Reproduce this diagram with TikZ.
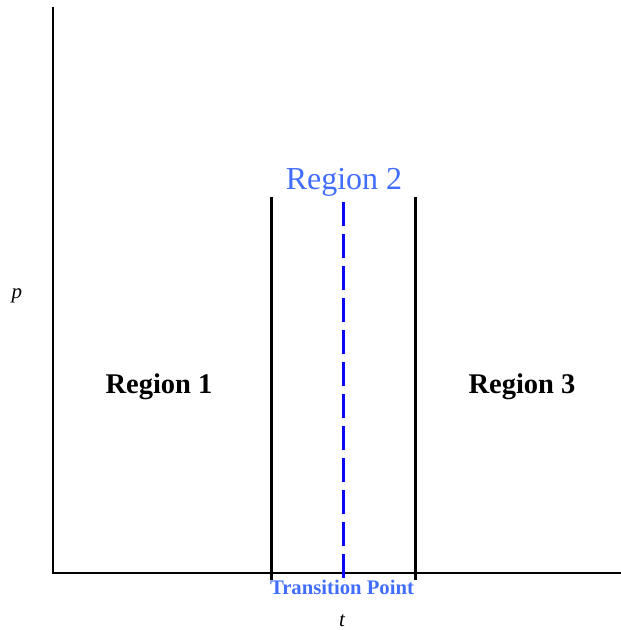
\documentclass[tikz,border=0pt]{standalone}
\usepackage{fontspec}
\setmainfont{Liberation Serif}
\definecolor{labelblue}{RGB}{66,110,255}
\definecolor{lineblue}{RGB}{10,10,240}
\begin{document}
\begin{tikzpicture}[x=1pt,y=-1pt,
  axis/.style={line width=1.3pt,black},
  bound/.style={line width=3pt,black},
  trans/.style={line width=3pt,lineblue,dash pattern=on 24pt off 8pt},
  region/.style={font=\fontsize{28.5}{32}\selectfont\bfseries,anchor=base},
  toplabel/.style={font=\fontsize{32}{36}\selectfont,text=labelblue,anchor=base},
  tplabel/.style={font=\fontsize{20.7}{24}\selectfont\bfseries,text=labelblue,anchor=base},
  axlabel/.style={font=\fontsize{21}{24}\selectfont\itshape,anchor=base}]
\useasboundingbox (0,0) rectangle (621,630);
% axes
\coordinate (top) at (53,7);
\coordinate (origin) at (53,573);
\coordinate (right) at (621,573);
\draw[axis] (top) -- (origin) -- (right);
% region boundaries and transition point
\coordinate (b1top) at (271,197);
\coordinate (b1bot) at (271,580);
\coordinate (b2top) at (415,197);
\coordinate (b2bot) at (415,580);
\coordinate (tptop) at (343,202);
\coordinate (tpbot) at (343,584);
\draw[bound] (b1top) -- (b1bot);
\draw[bound] (b2top) -- (b2bot);
\draw[trans] (tptop) -- (tpbot);
% labels
\node[toplabel] (r2) at (344,189) {Region 2};
\node[region] (r1) at (159,393) {Region 1};
\node[region] (r3) at (522,393) {Region 3};
\node[tplabel] (tp) at (342,594) {Transition Point};
\node[axlabel] (tl) at (342,626) {t};
\node[axlabel] (pl) at (17,298) {p};
\end{tikzpicture}
\end{document}
